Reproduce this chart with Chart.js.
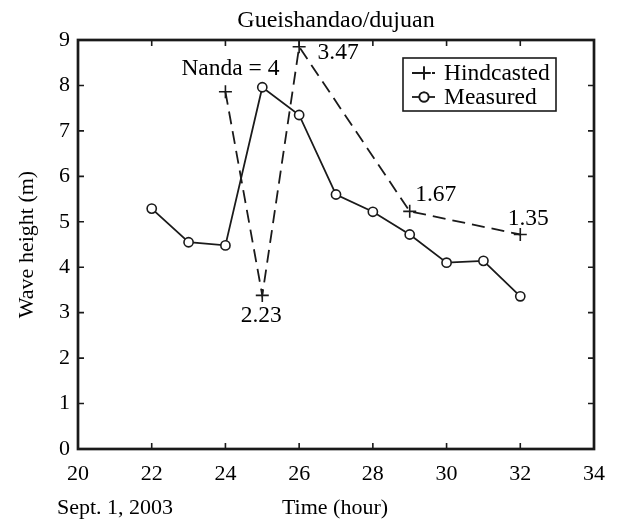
<!DOCTYPE html>
<html>
<head>
<meta charset="utf-8">
<script src="https://cdn.jsdelivr.net/npm/chart.js@4/dist/chart.umd.min.js"></script>
<style>
  body { margin: 0; background: #fff; }
  #wrap { width: 617px; height: 519px; }
</style>
</head>
<body>
<div id="wrap"><canvas id="chart" width="617" height="519"></canvas></div>
<script>
// data
const measuredHours = [22, 23, 24, 25, 26, 27, 28, 29, 30, 31, 32];
const measuredHeight = [5.29, 4.55, 4.48, 7.96, 7.35, 5.60, 5.22, 4.72, 4.10, 4.14, 3.36];
const hindHours = [24, 25, 26, 29, 32];
const hindHeight = [7.86, 3.38, 8.85, 5.23, 4.72];
const hindLabels = ['Nanda = 4', '2.23', '3.47', '1.67', '1.35'];
const xTicks = [20, 22, 24, 26, 28, 30, 32, 34];
const yTicks = [0, 1, 2, 3, 4, 5, 6, 7, 8, 9];

const FONT = 'Liberation Serif, Times New Roman, serif';
const INK = '#1a1a1a';

// offsets of the labels next to each hindcast point (px)
const labelOffsets = [[5, -23], [-1, 20], [39, 6], [26, -16], [8, -16]];

const decorPlugin = {
    id: 'decor',
    afterDraw(chart) {
        const ctx = chart.ctx;
        const a = chart.chartArea;
        const xs = chart.scales.x, ys = chart.scales.y;
        ctx.save();

        // frame + inward ticks
        ctx.strokeStyle = INK;
        ctx.lineWidth = 1.6;
        ctx.beginPath();
        xTicks.forEach(v => {
            const px = xs.getPixelForValue(v);
            ctx.moveTo(px, a.bottom); ctx.lineTo(px, a.bottom - 6);
            ctx.moveTo(px, a.top); ctx.lineTo(px, a.top + 6);
        });
        yTicks.forEach(v => {
            const py = ys.getPixelForValue(v);
            ctx.moveTo(a.left, py); ctx.lineTo(a.left + 6, py);
            ctx.moveTo(a.right, py); ctx.lineTo(a.right - 6, py);
        });
        ctx.stroke();
        ctx.lineWidth = 2.7;
        ctx.strokeRect(a.left, a.top, a.right - a.left, a.bottom - a.top);

        // texts
        ctx.fillStyle = '#000';
        ctx.textBaseline = 'middle';
        ctx.font = '24px ' + FONT;
        ctx.textAlign = 'center';
        ctx.fillText('Gueishandao/dujuan', (a.left + a.right) / 2, 21);

        ctx.font = '22px ' + FONT;
        ctx.fillText('Time (hour)', 335, 508);
        ctx.textAlign = 'left';
        ctx.fillText('Sept. 1, 2003', 57, 508);

        ctx.save();
        ctx.translate(27, (a.top + a.bottom) / 2);
        ctx.rotate(-Math.PI / 2);
        ctx.textAlign = 'center';
        ctx.fillText('Wave height (m)', 0, 0);
        ctx.restore();

        // point labels
        ctx.font = '23.5px ' + FONT;
        ctx.textAlign = 'center';
        hindLabels.forEach((t, i) => {
            const px = xs.getPixelForValue(hindHours[i]) + labelOffsets[i][0];
            const py = ys.getPixelForValue(hindHeight[i]) + labelOffsets[i][1];
            ctx.fillText(t, px, py);
        });

        // legend box
        const lx = 403, ly = 58, lw = 153, lh = 53;
        ctx.fillStyle = '#fff';
        ctx.fillRect(lx, ly, lw, lh);
        ctx.strokeStyle = INK;
        ctx.lineWidth = 1.6;
        ctx.strokeRect(lx, ly, lw, lh);
        chart.data.datasets.forEach((ds, i) => {
            const cy = ly + 15 + i * 24;
            ctx.strokeStyle = ds.borderColor;
            ctx.lineWidth = ds.borderWidth;
            ctx.setLineDash(ds.borderDash || []);
            ctx.beginPath();
            ctx.moveTo(lx + 9, cy); ctx.lineTo(lx + 32, cy);
            ctx.stroke();
            ctx.setLineDash([]);
            Chart.helpers.drawPoint(ctx, {
                pointStyle: ds.pointStyle, radius: ds.pointRadius,
                borderWidth: ds.pointBorderWidth, rotation: 0
            }, lx + 21, cy);
            if (ds.pointStyle === 'circle') {
                ctx.fillStyle = '#fff';
                ctx.beginPath();
                ctx.arc(lx + 21, cy, ds.pointRadius, 0, Math.PI * 2);
                ctx.fill();
                ctx.stroke();
            } else {
                ctx.stroke();
            }
            ctx.fillStyle = '#000';
            ctx.textAlign = 'left';
            ctx.font = '23.5px ' + FONT;
            ctx.fillText(ds.label, lx + 41, cy + 1);
        });
        ctx.restore();
    }
};

new Chart(document.getElementById('chart'), {
    type: 'scatter',
    data: {
        datasets: [
            {
                label: 'Hindcasted',
                data: hindHours.map((h, i) => ({ x: h, y: hindHeight[i] })),
                showLine: true,
                borderColor: INK,
                borderWidth: 1.8,
                borderDash: [13, 7],
                pointStyle: 'cross',
                pointRadius: 6.5,
                pointBorderWidth: 1.6,
                pointBorderColor: INK
            },
            {
                label: 'Measured',
                data: measuredHours.map((h, i) => ({ x: h, y: measuredHeight[i] })),
                showLine: true,
                borderColor: INK,
                borderWidth: 1.8,
                pointStyle: 'circle',
                pointRadius: 4.6,
                pointBorderWidth: 1.6,
                pointBorderColor: INK,
                pointBackgroundColor: '#fff'
            }
        ]
    },
    options: {
        responsive: false,
        animation: false,
        clip: false,
        layout: { padding: { top: 40, right: 19, left: 0, bottom: 0 } },
        plugins: { legend: { display: false }, tooltip: { enabled: false }, title: { display: false } },
        scales: {
            x: {
                type: 'linear', min: 20, max: 34,
                afterBuildTicks: s => { s.ticks = xTicks.map(v => ({ value: v })); },
                afterFit: s => { s.height = 70; },
                grid: { display: false, drawTicks: false },
                border: { display: false },
                ticks: { autoSkip: false, maxRotation: 0, padding: 12, color: '#000', font: { family: FONT, size: 22 } }
            },
            y: {
                type: 'linear', min: 0, max: 9,
                afterBuildTicks: s => { s.ticks = yTicks.map(v => ({ value: v })); },
                afterFit: s => { s.width = 78; },
                grid: { display: false, drawTicks: false },
                border: { display: false },
                ticks: { padding: 8, color: '#000', font: { family: FONT, size: 22 } }
            }
        }
    },
    plugins: [decorPlugin]
});
</script>
</body>
</html>
